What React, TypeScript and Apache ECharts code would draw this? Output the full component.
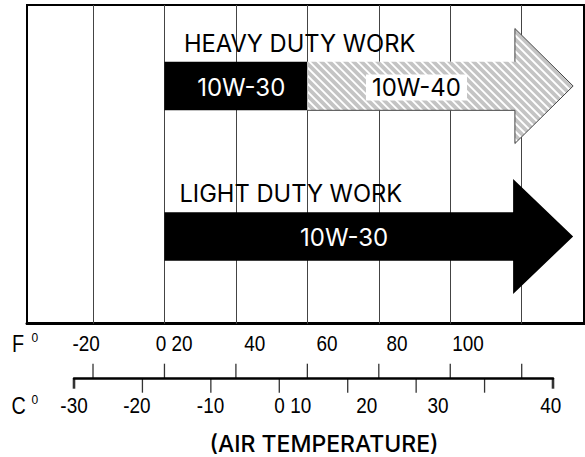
import React, { useEffect, useRef } from 'react';
import * as echarts from 'echarts';

// Rows of the oil-viscosity chart
const rowNames = ['HEAVY DUTY WORK', 'LIGHT DUTY WORK'];
const headStartF = [98.1, 97.6];
const tipF = [114.4, 114.4];

// Grade segments (°F)
const grades = ['10W-30', '10W-40', '10W-30'];
const gradeRow = [0, 0, 1];
const gradeFromF = [0, 40, 0];
const gradeToF = [40, 114.4, 114.4];

// Fahrenheit scale
const fGridLines = [-20, 0, 20, 40, 60, 80, 100];
const fLabels = ['-20', '0 20', '40', '60', '80', '100'];
const fLabelAt = [-21.9, 2.7, 25.3, 45.5, 65.1, 85.0];

// Celsius scale
const cTicks = [-30, -20, -10, 0, 10, 20, 30, 40];
const cLabels = ['-30', '-20', '-10', '0 10', '20', '30', '40'];
const cLabelAt = [-30, -20.8, -10.05, 1.97, 12.8, 23.2, 39.66];

const NUM_FONT = "'Liberation Sans', Arial, sans-serif";
const TITLE_FONT = "Inter, 'Noto Sans', sans-serif";

const F_MIN = -38.47;
const F_MAX = 117.44;

export default function App() {
  const ref = useRef<HTMLDivElement>(null);

  useEffect(() => {
    if (!ref.current) return;
    const chart = echarts.init(ref.current, null, { renderer: 'svg' });

    const titleOffset = [19.5, 15];
    const bodyHalf = 24.3;
    const headHalf = 57.5;

    const renderItem = (params: any, api: any) => {
      const i = params.dataIndex;
      const from = api.value(0);
      const to = api.value(1);
      const row = api.value(2);
      const yc = api.coord([0, row])[1];
      const x0 = api.coord([from, row])[0];
      const x1 = api.coord([to, row])[0];
      const xh = api.coord([headStartF[row], row])[0];
      const hasHead = to >= tipF[row];
      const top = yc - bodyHalf;
      const bot = yc + bodyHalf;
      let points: number[][];
      if (hasHead) {
        points = [
          [x0, top], [xh, top], [xh, yc - headHalf], [x1, yc],
          [xh, yc + headHalf], [xh, bot], [x0, bot],
        ];
      } else {
        points = [[x0, top], [x1, top], [x1, bot], [x0, bot]];
      }
      const hatched = grades[i] === '10W-40';
      const children: any[] = [];
      if (hatched) {
        const ht = yc - headHalf;
        const hb = yc + headHalf;
        const H = hb - ht;
        const lines: any[] = [];
        for (let x = x0 - H; x <= x1 + 8; x += 8) {
          lines.push({
            type: 'line',
            shape: { x1: x, y1: ht, x2: x + H, y2: hb },
            style: { stroke: '#c4c4c4', lineWidth: 3.8 },
          });
        }
        children.push({
          type: 'polygon',
          shape: { points },
          style: { fill: '#fff', stroke: null },
        });
        children.push({
          type: 'group',
          clipPath: { type: 'polygon', shape: { points } },
          children: lines,
        });
        children.push({
          type: 'polyline',
          shape: { points: points.slice(1) },
          style: { fill: 'none', stroke: '#444', lineWidth: 1 },
        });
      } else {
        children.push({
          type: 'polygon',
          shape: { points },
          style: { fill: '#000', stroke: null },
        });
      }
      const labelF = (from + Math.min(to, headStartF[row])) / 2 + 1.5;
      const lx = api.coord([labelF, row])[0];
      children.push({
        type: 'text',
        style: {
          text: grades[i],
          x: lx,
          y: yc + 1.5,
          align: 'center',
          verticalAlign: 'middle',
          fill: hatched ? '#000' : '#fff',
          font: `24px ${TITLE_FONT}`,
          backgroundColor: hatched ? '#fff' : null,
          padding: hatched ? [1, 6] : 0,
        },
      });
      if (gradeRow.indexOf(row) === i) {
        children.push({
          type: 'text',
          style: {
            text: rowNames[row],
            x: x0 + titleOffset[row],
            y: yc - 43,
            align: 'left',
            verticalAlign: 'middle',
            fill: '#000',
            font: `23.7px ${TITLE_FONT}`,
          },
        });
      }
      return { type: 'group', children };
    };

    const makeLabelRenderer = (texts: string[], dy: number) => (params: any, api: any) => {
      const p = api.coord([api.value(0), api.value(1)]);
      return {
        type: 'text',
        x: p[0],
        y: p[1] + dy,
        scaleX: 0.86,
        style: {
          text: texts[params.dataIndex],
          x: 0,
          y: 0,
          align: 'center',
          verticalAlign: 'middle',
          fill: '#000',
          font: `22px ${NUM_FONT}`,
        },
      };
    };

    chart.setOption({
      animation: false,
      backgroundColor: '#fff',
      grid: [
        { left: 27, right: 1, top: 5, bottom: 133.3, show: true, borderColor: '#000', borderWidth: 2 },
        { left: 27, right: 1, top: 10.8, bottom: 145.3 },
        { left: 74, right: 32, top: 355, bottom: 78.3 },
      ],
      xAxis: [
        {
          type: 'value', gridIndex: 0, min: F_MIN, max: F_MAX,
          axisLine: { show: true, onZero: false, lineStyle: { color: '#000', width: 3 } },
          axisTick: { show: false }, axisLabel: { show: false }, splitLine: { show: false },
        },
        { type: 'value', gridIndex: 1, min: F_MIN, max: F_MAX, show: false },
        {
          type: 'value', gridIndex: 2, min: -30, max: 40, interval: 10,
          axisLine: { show: true, onZero: false, lineStyle: { color: '#000', width: 2.5 } },
          axisTick: { show: false }, axisLabel: { show: false }, splitLine: { show: false },
        },
        { type: 'value', gridIndex: 2, min: -25.32, max: 108.76, show: false },
      ],
      yAxis: [
        { type: 'value', gridIndex: 0, min: 0, max: 1, show: false },
        { type: 'category', gridIndex: 1, data: rowNames, inverse: true, show: false },
        { type: 'value', gridIndex: 2, min: 0, max: 1, show: false },
      ],
      series: [
        {
          type: 'custom', xAxisIndex: 0, yAxisIndex: 0, clip: false,
          renderItem: makeLabelRenderer(fLabels, 18.8),
          data: fLabelAt.map((v) => [v, 0]),
          markLine: {
            silent: true, symbol: ['none', 'none'], animation: false,
            label: { show: false },
            lineStyle: { color: '#444', width: 1, type: 'solid' },
            data: fGridLines.map((v) => ({ xAxis: v })),
          },
        },
        {
          type: 'custom', xAxisIndex: 1, yAxisIndex: 1, z: 5, clip: false,
          renderItem,
          encode: { x: [0, 1], y: 2 },
          data: grades.map((g, i) => [gradeFromF[i], gradeToF[i], gradeRow[i]]),
        },
        {
          type: 'scatter', xAxisIndex: 2, yAxisIndex: 2, clip: false,
          symbol: 'rect',
          symbolSize: (v: number[]) => (v[0] === -30 || v[0] === 40 ? [2.6, 10] : [1.3, 14]),
          symbolOffset: (v: number[]) => (v[0] === -30 || v[0] === 40 ? [0, 5] : [0, 7]),
          itemStyle: { color: '#000' },
          data: cTicks.map((v) => [v, 0]),
        },
        {
          type: 'scatter', xAxisIndex: 3, yAxisIndex: 2, clip: false,
          symbol: 'rect', symbolSize: [1.3, 15], symbolOffset: [0, -7.5],
          itemStyle: { color: '#000' },
          data: fGridLines.map((v) => [v, 0]),
        },
        {
          type: 'custom', xAxisIndex: 2, yAxisIndex: 2, clip: false,
          renderItem: makeLabelRenderer(cLabels, 26.5),
          data: cLabelAt.map((v) => [v, 0]),
        },
      ],
      graphic: [
        { type: 'text', x: 12, y: 344, scaleX: 0.86, style: { text: 'F', font: `23px ${NUM_FONT}`, fill: '#000', verticalAlign: 'middle' } },
        { type: 'text', x: 31.5, y: 337.5, style: { text: '0', font: `12px ${NUM_FONT}`, fill: '#000', verticalAlign: 'middle' } },
        { type: 'text', x: 11.5, y: 406.5, scaleX: 0.86, style: { text: 'C', font: `23px ${NUM_FONT}`, fill: '#000', verticalAlign: 'middle' } },
        { type: 'text', x: 31.5, y: 399.5, style: { text: '0', font: `12px ${NUM_FONT}`, fill: '#000', verticalAlign: 'middle' } },
        {
          type: 'text', x: 324, y: 443.5,
          style: { text: '(AIR TEMPERATURE)', font: `500 23px ${TITLE_FONT}`, fill: '#000', align: 'center', verticalAlign: 'middle' },
        },
      ],
    });

    return () => chart.dispose();
  }, []);

  return (
    <div
      ref={ref}
      style={{ position: 'fixed', left: 0, top: 0, width: 585, height: 457, background: '#fff' }}
    />
  );
}
